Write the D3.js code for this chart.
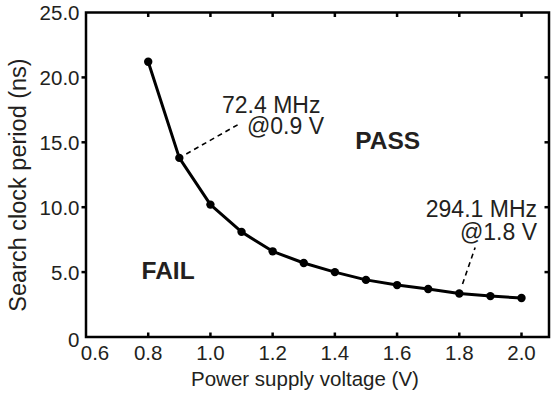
<!DOCTYPE html>
<html>
<head>
<meta charset="utf-8">
<script src="https://cdn.jsdelivr.net/npm/d3@7"></script>
<style>
  html, body { margin: 0; padding: 0; background: #fff; }
  svg { display: block; }
  text { font-family: "Liberation Sans", Arial, Helvetica, sans-serif; fill: #231f20; }
</style>
</head>
<body>
<svg id="chart" width="552" height="396"></svg>
<script>
// ---- data ----
const voltages = [0.8, 0.9, 1.0, 1.1, 1.2, 1.3, 1.4, 1.5, 1.6, 1.7, 1.8, 1.9, 2.0];
const periods  = [21.2, 13.8, 10.2, 8.1, 6.6, 5.7, 5.0, 4.4, 4.0, 3.7, 3.35, 3.15, 3.0];
const xTicks = [0.6, 0.8, 1.0, 1.2, 1.4, 1.6, 1.8, 2.0];
const xTickLabels = ["0.6", "0.8", "1.0", "1.2", "1.4", "1.6", "1.8", "2.0"];
const yTicks = [0, 5, 10, 15, 20, 25];
const yTickLabels = ["0", "5.0", "10.0", "15.0", "20.0", "25.0"];
const xTitle = "Power supply voltage (V)";
const yTitle = "Search clock period (ns)";
const annotations = [
  { lines: ["72.4 MHz", "@0.9 V"], at: 0.9, value: 13.8, tx: 1.095, ty: 16.45 },
  { lines: ["294.1 MHz", "@1.8 V"], at: 1.8, value: 3.35, tx: 1.851, ty: 6.9 }
];
const regionLabels = [
  { text: "PASS", x: 1.57, y: 14.45 },
  { text: "FAIL", x: 0.864, y: 4.46 }
];

// ---- layout ----
(function () {
const svg = d3.select("#chart");
const mL = 86, mR = 549, mT = 12.5, mB = 337;
const x = d3.scaleLinear().domain([0.6, 2.0]).range([mL, 521.5]);
const y = d3.scaleLinear().domain([0, 25]).range([mB, mT]);
const ink = "#000";

// frame
svg.append("rect")
  .attr("x", mL).attr("y", mT)
  .attr("width", mR - mL).attr("height", mB - mT)
  .attr("fill", "none").attr("stroke", ink).attr("stroke-width", 2.5);

const innerX = xTicks.filter(d => d > 0.6);
const innerY = yTicks.filter(d => d > 0 && d < 25);

svg.append("g").selectAll("line").data(innerX).join("line")
  .attr("x1", d => x(d)).attr("x2", d => x(d))
  .attr("y1", mB).attr("y2", mB - 4.5)
  .attr("stroke", ink).attr("stroke-width", 2.5);
svg.append("g").selectAll("line").data(innerX).join("line")
  .attr("x1", d => x(d)).attr("x2", d => x(d))
  .attr("y1", mT).attr("y2", mT + 4.5)
  .attr("stroke", ink).attr("stroke-width", 2.5);
svg.append("g").selectAll("line").data(innerY).join("line")
  .attr("x1", mL).attr("x2", mL - 4.5)
  .attr("y1", d => y(d)).attr("y2", d => y(d))
  .attr("stroke", ink).attr("stroke-width", 2.5);
svg.append("g").selectAll("line").data(innerY).join("line")
  .attr("x1", mR).attr("x2", mR - 4.5)
  .attr("y1", d => y(d)).attr("y2", d => y(d))
  .attr("stroke", ink).attr("stroke-width", 2.5);

// x tick labels
svg.append("g").selectAll("text").data(xTicks).join("text")
  .attr("x", (d, i) => x(d) + (i === 0 ? 9 : 0))
  .attr("y", 360)
  .attr("text-anchor", "middle")
  .attr("font-size", 20.5)
  .text((d, i) => xTickLabels[i]);

// y tick labels
svg.append("g").selectAll("text").data(yTicks).join("text")
  .attr("x", 79.5)
  .attr("y", (d, i) => y(d) + (i === 0 ? 10 : 7.5))
  .attr("text-anchor", "end")
  .attr("font-size", 20.5)
  .text((d, i) => yTickLabels[i]);

// axis titles
svg.append("text")
  .attr("x", 305).attr("y", 386)
  .attr("text-anchor", "middle")
  .attr("font-size", 20.5)
  .text(xTitle);
svg.append("text")
  .attr("transform", "translate(26,185) rotate(-90)")
  .attr("text-anchor", "middle")
  .attr("font-size", 23.5)
  .text(yTitle);

// data line
const pts = voltages.map((v, i) => [v, periods[i]]);
svg.append("path")
  .datum(pts)
  .attr("fill", "none").attr("stroke", ink).attr("stroke-width", 3)
  .attr("stroke-linejoin", "round")
  .attr("d", d3.line().x(d => x(d[0])).y(d => y(d[1])));
svg.append("g").selectAll("circle").data(pts).join("circle")
  .attr("cx", d => x(d[0])).attr("cy", d => y(d[1]))
  .attr("r", 4.2).attr("fill", ink);

// annotation leader lines
annotations.forEach((a, k) => {
  const x0 = x(a.at), y0 = y(a.value);
  const x1 = x(a.tx), y1 = y(a.ty);
  const len = Math.hypot(x1 - x0, y1 - y0);
  const off = k === 0 ? 8 : 10;
  svg.append("line")
    .attr("x1", x0 + (x1 - x0) / len * off).attr("y1", y0 + (y1 - y0) / len * off)
    .attr("x2", x1).attr("y2", y1)
    .attr("stroke", ink).attr("stroke-width", 1.6)
    .attr("stroke-dasharray", "5,4");
});
// annotation text blocks
svg.append("text").attr("x", 222).attr("y", 113).attr("font-size", 23).text(annotations[0].lines[0]);
svg.append("text").attr("x", 324).attr("y", 134).attr("text-anchor", "end").attr("font-size", 23).text(annotations[0].lines[1]);
svg.append("text").attr("x", 537).attr("y", 217).attr("text-anchor", "end").attr("font-size", 23).text(annotations[1].lines[0]);
svg.append("text").attr("x", 537).attr("y", 240).attr("text-anchor", "end").attr("font-size", 23).text(annotations[1].lines[1]);

// region labels
svg.append("g").selectAll("text").data(regionLabels).join("text")
  .attr("x", d => x(d.x)).attr("y", d => y(d.y))
  .attr("text-anchor", "middle")
  .attr("font-size", 24.5).attr("font-weight", "bold")
  .text(d => d.text);
})();
</script>
</body>
</html>
